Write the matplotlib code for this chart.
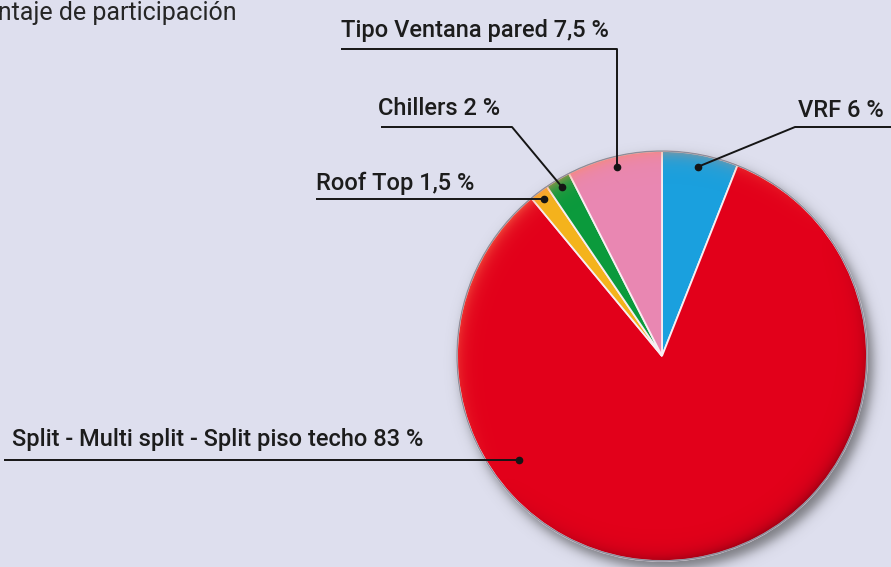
import numpy as np
import matplotlib
matplotlib.use("Agg")
import matplotlib.pyplot as plt
from matplotlib.patches import Circle

# ---- data ----
categories = ["VRF", "Split - Multi split - Split piso techo", "Roof Top", "Chillers", "Tipo Ventana pared"]
shares = [6, 83, 1.5, 2, 7.5]
label_texts = ["VRF 6 %", "Split - Multi split - Split piso techo 83 %", "Roof Top 1,5 %",
               "Chillers 2 %", "Tipo Ventana pared 7,5 %"]
title = "Porcentaje de participación"

colors = ["#1aa0de", "#e2001a", "#f4b31c", "#0b9a3c", "#e987b2"]
BG = "#dedfee"
W, H = 891, 567
cx, cy, R = 662, 356, 205  # pixel coords, y from top

FONT = ["Roboto", "Liberation Sans", "DejaVu Sans"]

fig = plt.figure(figsize=(W / 100, H / 100), dpi=100, facecolor=BG)
ax = fig.add_axes([0, 0, 1, 1])
ax.set_facecolor(BG)

def Y(y):
    return H - y

# drop shadow
xs = np.arange(0, W) + 0.5
ys = np.arange(0, H) + 0.5
XX, YY = np.meshgrid(xs, ys)
ds = np.hypot(XX - (cx + 5), YY - (cy + 7))
sh_alpha = 0.6 / (1 + np.exp(-(R + 1 - ds) / 3.5))
shadow = np.zeros((H, W, 4))
shadow[..., :3] = 0.22
shadow[..., 3] = sh_alpha
ax.imshow(shadow, extent=(0, W, 0, H), origin="upper", zorder=1, interpolation="bilinear")

wedges, _ = ax.pie(shares, colors=colors, startangle=90, counterclock=False,
                   center=(cx, Y(cy)), radius=R,
                   wedgeprops=dict(edgecolor="#f8eef2", linewidth=1.3))
for w in wedges:
    w.set_zorder(2)

# rim shading (3D button effect)
d = np.hypot(XX - cx, YY - cy)
t = R - d
rim = np.exp(-np.clip(t, 0, None) / 7.0)
nx = (XX - cx) / np.maximum(d, 1e-6)
ny = -(YY - cy) / np.maximum(d, 1e-6)
f = nx * (-0.6) + ny * 0.8
rimimg = np.zeros((H, W, 4))
light = f > 0
rimimg[..., 0] = np.where(light, 1.0, 0.25)
rimimg[..., 1] = np.where(light, 0.55, 0.0)
rimimg[..., 2] = np.where(light, 0.35, 0.05)
rimimg[..., 3] = np.where(t > -2, rim * np.where(light, 0.55 * f, 0.45 * (-f)), 0)
im = ax.imshow(rimimg, extent=(0, W, 0, H), origin="upper", zorder=3, interpolation="bilinear")
clipc = Circle((cx, Y(cy)), R, transform=ax.transData)
im.set_clip_path(clipc)
ax.add_patch(Circle((cx, Y(cy)), R, facecolor="none", edgecolor="#8d8d9c", lw=1.0, zorder=4))

# dots at wedge mid angles
dot_frac = [0.94, 0.86, 0.955, 0.955, 0.95]
dot_angle = [None, 216.0, None, None, None]
dots = []
for w, fr, ang in zip(wedges, dot_frac, dot_angle):
    a = np.deg2rad(ang if ang is not None else (w.theta1 + w.theta2) / 2)
    px = cx + fr * R * np.cos(a)
    py = cy - fr * R * np.sin(a)
    dots.append((px, py))

txt_kw = dict(fontsize=17, color="#1c1c1c", family=FONT, weight="medium", va="baseline", zorder=6)

# label layout: (text x, text baseline y, line start x, elbow x, line y)
layout = [
    (798, 117, 891, 795, 127),    # VRF
    (12, 446, 4, None, None),     # Split: horizontal into dot
    (316, 190, 316, None, None),  # Roof Top: horizontal into dot
    (378, 115, 381, 512, 127),    # Chillers
    (341, 37, 341, "dot", 49),    # Tipo Ventana: vertical drop into dot
]
for (tx, ty, x0, x1, ly), lab, (px, py) in zip(layout, label_texts, dots):
    ax.text(tx, Y(ty), lab, ha="left", **txt_kw)
    if x1 is None:
        xsgm = [x0, px]
        ysgm = [Y(py), Y(py)]
    else:
        if x1 == "dot":
            x1 = px
        xsgm = [x0, x1, px]
        ysgm = [Y(ly), Y(ly), Y(py)]
    ax.plot(xsgm, ysgm, color="#151515", lw=1.4, zorder=5, solid_capstyle="butt")
    ax.plot([px], [Y(py)], "o", color="#151515", ms=4.5, zorder=6)

ax.text(237, Y(20), title, ha="right", va="baseline", fontsize=18, color="#262626",
        family=FONT, zorder=6)

ax.set_xlim(0, W)
ax.set_ylim(0, H)
ax.set_aspect("auto")
ax.axis("off")
fig.savefig("out.png", dpi=100, facecolor=BG)
